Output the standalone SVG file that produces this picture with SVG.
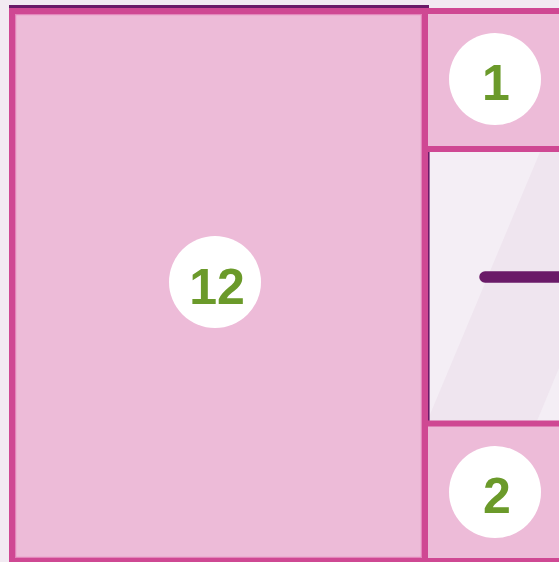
<svg xmlns="http://www.w3.org/2000/svg" width="559" height="562" viewBox="0 0 559 562">
  <style>
    .room { fill: #edbbd8; stroke: #cf4893; stroke-width: 6; }
    .inner { fill: none; stroke: #e385bb; stroke-width: 1.2; }
    .badge { fill: #ffffff; }
    .num { font-family: "Liberation Sans", Arial, sans-serif; font-weight: bold; font-size: 50px; fill: #6b9a2a; text-anchor: middle; }
  </style>
  <g id="background">
    <rect x="0" y="0" width="559" height="562" fill="#f2eaf2"/>
    <polygon points="603.5,0 712.6,0 477.6,562 368.6,562" fill="#efe5ef"/>
  </g>
  <g id="corridor">
    <rect x="428" y="150" width="135" height="273" fill="#f4eef5"/>
    <polygon points="540,152 570,152 570,370 537,421 428.5,421 428.5,418" fill="#efe5ef"/>
    <polygon points="559,368 559,421 537,421" fill="#f4eef5"/>
    <line x1="428.8" y1="150" x2="428.8" y2="423" stroke="#6a1a68" stroke-width="1.6"/>
    <line x1="485" y1="277" x2="570" y2="277" stroke="#6a1a68" stroke-width="11.5" stroke-linecap="round"/>
  </g>
  <g id="outline">
    <line x1="9" y1="6.5" x2="429" y2="6.5" stroke="#6a1a68" stroke-width="3"/>
  </g>
  <g id="room12">
    <rect class="room" x="12" y="11" width="413" height="550"/>
    <rect class="inner" x="15.6" y="14.6" width="405.8" height="542.8"/>
    <circle class="badge" cx="215" cy="282" r="46"/>
    <text class="num" x="217" y="304">12</text>
  </g>
  <g id="room1">
    <rect class="room" x="425" y="11" width="200" height="138"/>
    <circle class="badge" cx="495" cy="79" r="46"/>
    <text class="num" x="496" y="100">1</text>
  </g>
  <g id="room2">
    <rect class="room" x="425" y="423.5" width="200" height="137.5"/>
    <circle class="badge" cx="495" cy="492" r="46"/>
    <text class="num" x="497" y="513">2</text>
  </g>
</svg>
